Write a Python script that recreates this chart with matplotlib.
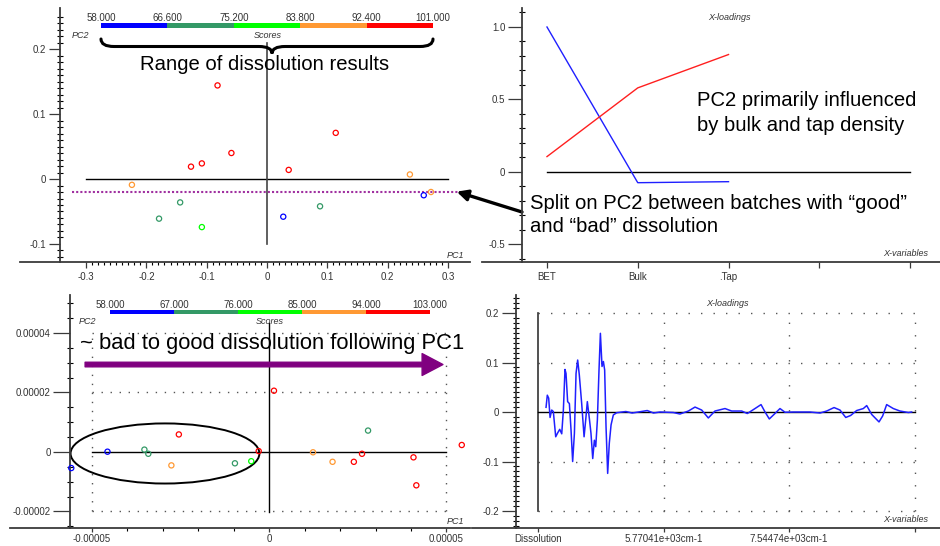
import numpy as np
import matplotlib
matplotlib.use("Agg")
import matplotlib.pyplot as plt
from matplotlib.colors import ListedColormap, BoundaryNorm
from matplotlib.cm import ScalarMappable
from matplotlib.patches import Ellipse, PathPatch
from matplotlib.path import Path

plt.rcParams['font.family'] = ['Liberation Sans', 'DejaVu Sans']

# --- dane ---
BAR_COLORS = ["#0000ff", "#339966", "#00ff00", "#ff9933", "#ff0000"]

# wykres wyników PC1/PC2 (góra, lewo)
tl_bounds = [58.0, 66.6, 75.2, 83.8, 92.4, 101.0]
tl_bound_labels = ["58.000", "66.600", "75.200", "83.800", "92.400", "101.000"]
tl_pc1 = [-0.082, 0.114, -0.059, -0.108, -0.126, 0.036, 0.237, -0.224, 0.272,
          0.260, -0.144, 0.088, 0.027, -0.179, -0.108]
tl_pc2 = [0.144, 0.071, 0.040, 0.024, 0.019, 0.014, 0.007, -0.009, -0.020,
          -0.025, -0.036, -0.042, -0.058, -0.061, -0.074]
tl_cls = [4, 4, 4, 4, 4, 4, 3, 3, 3, 0, 1, 1, 0, 1, 2]
tl_split = -0.020

# ładunki (góra, prawo)
tr_vars = ["BET", "Bulk", ".Tap"]
tr_pc1 = [1.0, -0.074, -0.067]
tr_pc2 = [0.106, 0.58, 0.81]

# wykres wyników (dół, lewo)
bl_bounds = [58.0, 67.0, 76.0, 85.0, 94.0, 103.0]
bl_bound_labels = ["58.000", "67.000", "76.000", "85.000", "94.000", "103.000"]
bl_pc1 = [0.14, 2.79, 5.43, -2.54, -4.55, -3.51, -3.40, -2.75, -5.57, -0.96,
          -0.50, -0.29, 1.24, 1.79, 2.39, 2.62, 4.07, 4.15]
bl_pc2 = [2.06, 0.72, 0.235, 0.59, 0.01, 0.08, -0.06, -0.45, -0.54, -0.38,
          -0.31, 0.03, -0.01, -0.33, -0.33, -0.06, -0.18, -1.12]
bl_cls = [4, 1, 4, 4, 0, 1, 1, 3, 0, 1, 2, 4, 3, 3, 4, 4, 4, 4]
bl_scale = 1e-5

# widmo ładunków (dół, prawo)
br_labels = ["Dissolution", "5.77041e+03cm-1", "7.54474e+03cm-1", ""]
sp_x = [0.064, 0.074, 0.085, 0.096, 0.109, 0.122, 0.141, 0.157, 0.173, 0.189,
        0.202, 0.215, 0.223, 0.236, 0.250, 0.263, 0.276, 0.290, 0.303, 0.316,
        0.329, 0.348, 0.367, 0.380, 0.393, 0.409, 0.422, 0.436, 0.449, 0.460,
        0.473, 0.486, 0.497, 0.510, 0.521, 0.531, 0.542, 0.555, 0.568, 0.582,
        0.600, 0.627, 0.70, 0.75, 0.80, 0.87, 0.92,
        0.972, 1.078, 1.131, 1.198, 1.251, 1.304, 1.357, 1.410, 1.490, 1.543,
        1.623, 1.668, 1.729, 1.777, 1.809, 1.843, 1.888, 1.928, 1.968, 2.034,
        2.167, 2.247, 2.300, 2.359, 2.406, 2.452, 2.491, 2.539, 2.592, 2.619,
        2.659, 2.717, 2.746, 2.778, 2.831, 2.884, 2.951, 2.977]
sp_y = [0.0095, 0.034, 0.028, -0.011, 0.004, 0.001, -0.050, -0.042, -0.035, -0.044,
        0.004, 0.086, 0.078, 0.021, 0.017, -0.036, -0.100, -0.043, 0.078, 0.105,
        0.075, 0.017, -0.050, -0.016, 0.021, -0.013, -0.043, -0.094, -0.057, -0.070,
        -0.016, 0.085, 0.159, 0.092, 0.102, 0.085, -0.030, -0.124, -0.063, -0.026,
        -0.006, -0.0014, 0.001, -0.002, 0.0, 0.003, -0.002,
        0.0, -0.001, -0.004, 0.002, 0.010, 0.004, -0.012, 0.002, 0.007, 0.002,
        0.002, -0.003, 0.007, 0.015, 0.0, -0.014, -0.003, 0.007, -0.0005, 0.0,
        0.0, -0.002, 0.002, 0.009, 0.004, -0.011, -0.007, 0.003, 0.007, 0.013,
        -0.005, -0.020, -0.008, 0.015, 0.007, 0.002, -0.001, 0.0]

# --- układ (piksele obrazka 940x546) ---
W, H = 940, 546
AX_COL = "#3a3a3a"
TXT_COL = "#333333"
BIG = 14.6      # opisy w górnej części
BIG2 = 15.8     # opis w dolnym panelu


def fx(p):
    return p / W


def fy(p):
    return 1 - p / H


def box(x0, y0, x1, y1):
    return [x0 / W, 1 - y1 / H, (x1 - x0) / W, (y1 - y0) / H]


fig = plt.figure(figsize=(9.4, 5.46), dpi=100)


def prep(ax, xlim, ylim, spine_x, ymaj_len=8, xlen=4, xpad=4):
    ax.set_xlim(xlim)
    ax.set_ylim(ylim)
    ax.patch.set_visible(False)
    ax.spines['top'].set_visible(False)
    ax.spines['right'].set_visible(False)
    ax.spines['left'].set_position(('data', spine_x))
    for s in ['left', 'bottom']:
        ax.spines[s].set_color(AX_COL)
        ax.spines[s].set_linewidth(1.3)
    ax.tick_params(labelsize=7, labelcolor=TXT_COL, color=AX_COL, width=0.9)
    ax.tick_params(axis='y', which='major', direction='out', length=ymaj_len, pad=2)
    ax.tick_params(axis='y', which='minor', direction='inout', length=4, width=0.8)
    ax.tick_params(axis='x', which='major', direction='out', length=xlen, pad=xpad)
    ax.tick_params(axis='x', which='minor', direction='out', length=2.5, width=0.8)


def scores_bar(rect, bounds, labels):
    cax = fig.add_axes(rect)
    cmap = ListedColormap(BAR_COLORS)
    norm = BoundaryNorm(bounds, cmap.N)
    cb = fig.colorbar(ScalarMappable(norm=norm, cmap=cmap), cax=cax,
                      orientation='horizontal', ticks=bounds)
    cb.outline.set_visible(False)
    cax.xaxis.set_ticks_position('top')
    cax.set_xticklabels(labels)
    cax.tick_params(length=0, pad=0, labelsize=7, labelcolor=TXT_COL)


def small(x, y, s, ha='center'):
    fig.text(fx(x), fy(y), s, ha=ha, va='center', fontsize=6.5,
             style='italic', color=TXT_COL)


# ---------- góra, lewo ----------
ax1 = fig.add_axes(box(20, 8, 470, 262))
prep(ax1, (-0.4096, 0.3367), (-0.1277, 0.2631), -0.3433, ymaj_len=8, xpad=3)
ax1.set_xticks([-0.3, -0.2, -0.1, 0, 0.1, 0.2, 0.3],
               ["-0.3", "-0.2", "-0.1", "0", "0.1", "0.2", "0.3"])
ax1.set_xticks(np.arange(-0.3, 0.3001, 0.01), minor=True)
ax1.set_yticks([-0.1, 0, 0.1, 0.2], ["-0.1", "0", "0.1", "0.2"])
ax1.set_yticks(np.arange(-0.12, 0.2501, 0.01), minor=True)
ax1.plot([-0.3, 0.3], [0, 0], color='black', lw=1)
ax1.plot([0, 0], [-0.1, 0.209], color='#444444', lw=1.2)
ax1.plot([-0.323, 0.335], [tl_split, tl_split], color='#a030a0', lw=1.5,
         linestyle=(0, (1, 1)))
ax1.scatter(tl_pc1, tl_pc2, s=14, facecolors='none',
            edgecolors=[BAR_COLORS[c] for c in tl_cls], linewidths=0.9, zorder=3)
scores_bar(box(101, 23, 433, 28), tl_bounds, tl_bound_labels)
small(80, 36, "PC2")
small(268, 36, "Scores")
small(455, 255, "PC1")

# klamra nad zakresem
brace_px = [(101, 39), (101, 46.5), (114, 46.5), (259, 46.5), (272, 46.5), (272, 53.5),
            (272, 46.5), (285, 46.5), (420, 46.5), (433, 46.5), (433, 39)]
brace_codes = [Path.MOVETO, Path.CURVE3, Path.CURVE3, Path.LINETO, Path.CURVE3, Path.CURVE3,
               Path.CURVE3, Path.CURVE3, Path.LINETO, Path.CURVE3, Path.CURVE3]
brace = Path([(fx(a), fy(b)) for a, b in brace_px], brace_codes)
fig.add_artist(PathPatch(brace, transform=fig.transFigure, fill=False,
                         lw=2.2, color='black', capstyle='round'))
fig.text(fx(265), fy(64), "Range of dissolution results", ha='center', va='center',
         fontsize=BIG)

# ---------- góra, prawo ----------
ax2 = fig.add_axes(box(482, 8, 940, 262))
prep(ax2, (-0.716, 4.33), (-0.621, 1.131), -0.275, ymaj_len=10, xpad=3)
ax2.set_xticks([0, 1, 2, 3, 4], tr_vars + ["", ""])
ax2.set_yticks([-0.5, 0, 0.5, 1.0], ["-0.5", "0", "0.5", "1.0"])
ax2.set_yticks(np.arange(-0.6, 1.11, 0.1), minor=True)
xi = np.arange(len(tr_vars))
ax2.plot([0, 4], [0, 0], color='black', lw=1)
ax2.plot(xi, tr_pc1, color='#1f1fff', lw=1)
ax2.plot(xi, tr_pc2, color='#ff1f1f', lw=1)
small(729, 18, "X-loadings")
small(928, 253, "X-variables", ha='right')
fig.text(fx(697), fy(113), "PC2 primarily influenced\nby bulk and tap density",
         ha='left', va='center', fontsize=BIG, linespacing=1.38)
fig.text(fx(530), fy(215),
         "Split on PC2 between batches with \u201cgood\u201d\nand \u201cbad\u201d dissolution",
         ha='left', va='center', fontsize=BIG, linespacing=1.32)
ax1.annotate("", xy=(0.3146, -0.0195), xycoords='data',
             xytext=(fx(522), fy(212)), textcoords='figure fraction',
             annotation_clip=False,
             arrowprops=dict(arrowstyle='-|>', lw=2.4, color='black',
                             mutation_scale=16, shrinkA=0, shrinkB=0))

# ---------- dół, lewo ----------
ax3 = fig.add_axes(box(10, 295, 470, 528))
prep(ax3, (-7.296e-5, 5.662e-5), (-2.555e-5, 5.277e-5), -5.606e-5,
     ymaj_len=12, xlen=3, xpad=1)
ax3.set_xticks([-5e-5, 0, 5e-5], ["-0.00005", "0", "0.00005"])
ax3.set_xticks(np.arange(-5e-5, 5.01e-5, 1e-5), minor=True)
ax3.set_yticks([-2e-5, 0, 2e-5, 4e-5], ["-0.00002", "0", "0.00002", "0.00004"])
ax3.set_yticks(np.arange(-2.5e-5, 5.01e-5, 0.5e-5), minor=True)
for gy in [4e-5, 2e-5, -2e-5]:
    ax3.plot([-5e-5, 5e-5], [gy, gy], color='#555555', lw=1, linestyle=(0, (1, 5.5)))
for gx in [-5e-5, 5e-5]:
    ax3.plot([gx, gx], [-2e-5, 4e-5], color='#555555', lw=1, linestyle=(0, (1, 5.5)))
ax3.plot([-5e-5, 5e-5], [0, 0], color='black', lw=1)
ax3.plot([0, 0], [-2.02e-5, 4.34e-5], color='black', lw=1)
ax3.scatter(np.array(bl_pc1) * bl_scale, np.array(bl_pc2) * bl_scale, s=14,
            facecolors='none', edgecolors=[BAR_COLORS[c] for c in bl_cls],
            linewidths=0.9, zorder=3, clip_on=False)
ax3.add_patch(Ellipse((-2.93e-5, -0.05e-5), 5.32e-5, 2.02e-5, fill=False,
                      color='black', lw=1.4))
ax3.annotate("", xy=(4.90e-5, 2.94e-5), xytext=(-5.18e-5, 2.94e-5),
             annotation_clip=False,
             arrowprops=dict(arrowstyle='simple,head_length=1.0,head_width=1.05,tail_width=0.22',
                             color='#800080', mutation_scale=15, shrinkA=0, shrinkB=0))
scores_bar(box(110, 310, 430, 314), bl_bounds, bl_bound_labels)
small(87, 322, "PC2")
small(270, 322, "Scores")
small(455, 522, "PC1")
fig.text(fx(80), fy(344), "~ bad to good dissolution following PC1", ha='left',
         va='center', fontsize=BIG2)

# ---------- dół, prawo ----------
ax4 = fig.add_axes(box(472, 295, 940, 528))
prep(ax4, (-0.526, 3.203), (-0.2343, 0.2364), -0.175, ymaj_len=10, xlen=3, xpad=1)
ax4.set_xticks([0, 1, 2, 3], br_labels)
ax4.set_yticks([-0.2, -0.1, 0, 0.1, 0.2], ["-0.2", "-0.1", "0", "0.1", "0.2"])
ax4.set_yticks(np.arange(-0.23, 0.2301, 0.01), minor=True)
for gy in [0.2, 0.1, -0.1, -0.2]:
    ax4.plot([0, 3], [gy, gy], color='#555555', lw=1, linestyle=(0, (1, 8)))
for gx in [1, 2, 3]:
    ax4.plot([gx, gx], [-0.2, 0.2], color='#555555', lw=1, linestyle=(0, (1, 8)))
ax4.plot([0, 0], [-0.2, 0.2], color='#333333', lw=1.2)
ax4.plot([0, 3], [0, 0], color='black', lw=1)
ax4.plot(sp_x, sp_y, color='#2020ff', lw=1.1)
small(727, 304, "X-loadings")
small(928, 519, "X-variables", ha='right')

fig.savefig("out.png", dpi=100)
